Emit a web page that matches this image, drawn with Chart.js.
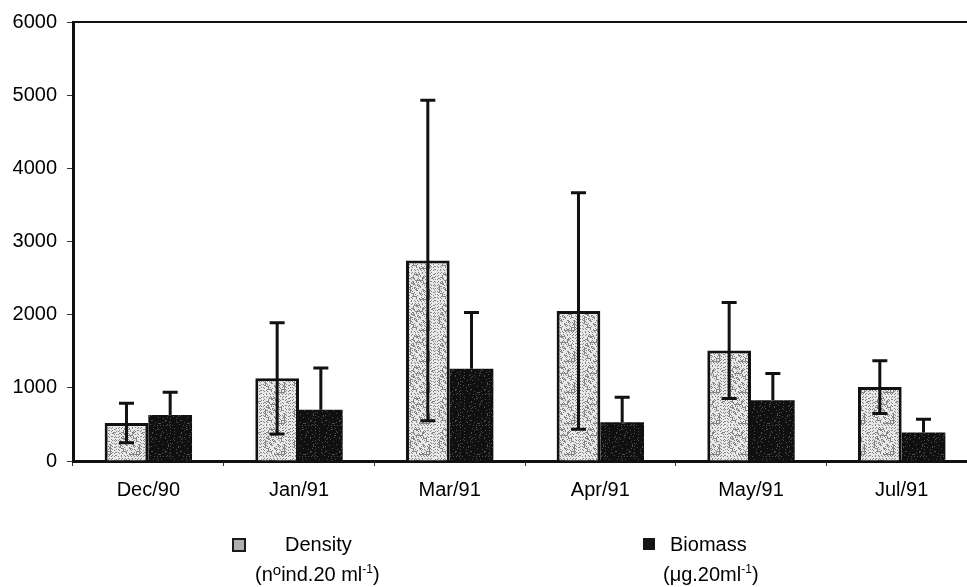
<!DOCTYPE html>
<html>
<head>
<meta charset="utf-8">
<script src="https://cdn.jsdelivr.net/npm/chart.js@4"></script>
<style>
  body { margin: 0; overflow: hidden; background: #fff; }
  #wrap { position: relative; width: 977px; height: 587px; }
  .lg { position: absolute; font-family: "Liberation Sans", Arial, sans-serif; font-size: 20px; line-height: 20px; color: #000; white-space: nowrap; }
  .sup { position: relative; font-size: 12px; top: -8px; }
  .deg { position: relative; font-size: 15px; top: -6px; }
  .box { position: absolute; box-sizing: border-box; }
</style>
</head>
<body>
<div id="wrap">
  <canvas id="chart"></canvas>
  <div class="box" id="icon-density" style="left:232px; top:538px; width:14px; height:14px; border:2px solid #1a1a1a;"></div>
  <div class="lg" style="left:285px; top:534px;">Density</div>
  <div class="lg" style="left:255px; top:564px;">(n<span class="deg">o</span>ind.20 ml<span class="sup">-1</span>)</div>
  <div class="box" style="left:643px; top:538px; width:12px; height:12px; background:#151515;"></div>
  <div class="lg" style="left:670px; top:534px;">Biomass</div>
  <div class="lg" style="left:663px; top:564px;">(μg.20ml<span class="sup">-1</span>)</div>
</div>
<script>
// sampling months
const months = ["Dec/90", "Jan/91", "Mar/91", "Apr/91", "May/91", "Jul/91"];

// density (n ind. 20 ml-1), mean and SD
const density = [520, 1130, 2740, 2050, 1510, 1010];
const densitySd = [270, 760, 2190, 1615, 655, 360];

// biomass (ug 20 ml-1), mean and SD
const biomass = [630, 700, 1260, 530, 830, 390];
const biomassSd = [310, 570, 770, 340, 365, 180];

const yTicks = [0, 1000, 2000, 3000, 4000, 5000, 6000];

const FONT = "'Liberation Sans', Arial, sans-serif";

// small speckled fill like the scanned print
function makeStipple(base, dot, amount) {
    const c = document.createElement("canvas");
    c.width = 29;
    c.height = 31;
    const g = c.getContext("2d");
    g.fillStyle = base;
    g.fillRect(0, 0, c.width, c.height);
    g.fillStyle = dot;
    for (let yy = 0; yy < c.height; yy++) {
        for (let xx = 0; xx < c.width; xx++) {
            const h = (xx * 7919 + yy * 104729 + xx * yy * 31) % 97;
            if (h < amount) g.fillRect(xx, yy, 1, 1);
        }
    }
    return g.createPattern(c, "repeat");
}

const lightFill = makeStipple("#e8e8e8", "#858585", 32);
const darkFill = makeStipple("#101010", "#4d4d4d", 9);

document.getElementById("icon-density").style.background = "#b0b0b0";

// error bars: density both ways, biomass only upward
const errorBars = {
    id: "errorBars",
    afterDatasetsDraw(chart) {
        const ctx = chart.ctx;
        const y = chart.scales.y;
        const sds = [densitySd, biomassSd];
        ctx.save();
        ctx.strokeStyle = "#111";
        ctx.lineWidth = 3;
        chart.data.datasets.forEach(function (ds, di) {
            const meta = chart.getDatasetMeta(di);
            meta.data.forEach(function (bar, i) {
                const v = ds.data[i];
                const top = y.getPixelForValue(v + sds[di][i]);
                const bottom = di === 0 ? y.getPixelForValue(v - sds[di][i]) : y.getPixelForValue(v);
                ctx.beginPath();
                ctx.moveTo(bar.x, top);
                ctx.lineTo(bar.x, bottom);
                ctx.moveTo(bar.x - 7.5, top);
                ctx.lineTo(bar.x + 7.5, top);
                if (di === 0) {
                    ctx.moveTo(bar.x - 7.5, bottom);
                    ctx.lineTo(bar.x + 7.5, bottom);
                }
                ctx.stroke();
            });
        });
        ctx.restore();
    },
};

// top frame line
const frameTop = {
    id: "frameTop",
    afterDraw(chart) {
        const a = chart.chartArea;
        const ctx = chart.ctx;
        ctx.save();
        ctx.strokeStyle = "#111";
        ctx.lineWidth = 2;
        ctx.beginPath();
        ctx.moveTo(a.left, a.top);
        ctx.lineTo(a.right, a.top);
        ctx.stroke();
        ctx.restore();
    },
};

function createChart() {
    const canvas = document.querySelector("#chart");

    let options = {
        type: "bar",
        data: {
            labels: months,
            datasets: [
                {
                    label: "Density",
                    data: density,
                    backgroundColor: lightFill,
                    borderColor: "#111",
                    borderWidth: 3,
                    borderSkipped: "bottom",
                },
                {
                    label: "Biomass",
                    data: biomass,
                    backgroundColor: darkFill,
                    borderWidth: 0,
                },
            ],
        },
        options: {
            responsive: true,
            maintainAspectRatio: false,
            animation: false,
            events: [],
            layout: {
                padding: { top: 21, right: 0, bottom: 0, left: 0 },
            },
            datasets: {
                bar: {
                    categoryPercentage: 0.58,
                    barPercentage: 1.0,
                },
            },
            scales: {
                x: {
                    grid: {
                        offset: true,
                        drawOnChartArea: false,
                        tickLength: 5,
                        color: "#333",
                    },
                    border: { color: "#111", width: 3 },
                    ticks: {
                        color: "#000",
                        padding: 12,
                        maxRotation: 0,
                        font: { family: FONT, size: 20 },
                    },
                    afterFit(scale) {
                        scale.height = 126;
                    },
                },
                y: {
                    min: 0,
                    max: 6000,
                    afterBuildTicks(scale) {
                        scale.ticks = yTicks.map(function (v) { return { value: v }; });
                    },
                    grid: {
                        drawOnChartArea: false,
                        tickLength: 6,
                        color: "#333",
                    },
                    border: { color: "#111", width: 3 },
                    ticks: {
                        color: "#000",
                        padding: 10,
                        font: { family: FONT, size: 20 },
                        callback: function (v) { return String(v); },
                    },
                    afterFit(scale) {
                        scale.width = 73;
                    },
                },
            },
            plugins: {
                legend: { display: false },
                tooltip: { enabled: false },
            },
        },
        plugins: [errorBars, frameTop],
    };

    const chart = new Chart(canvas.getContext("2d"), options);
}

createChart();
</script>
</body>
</html>
